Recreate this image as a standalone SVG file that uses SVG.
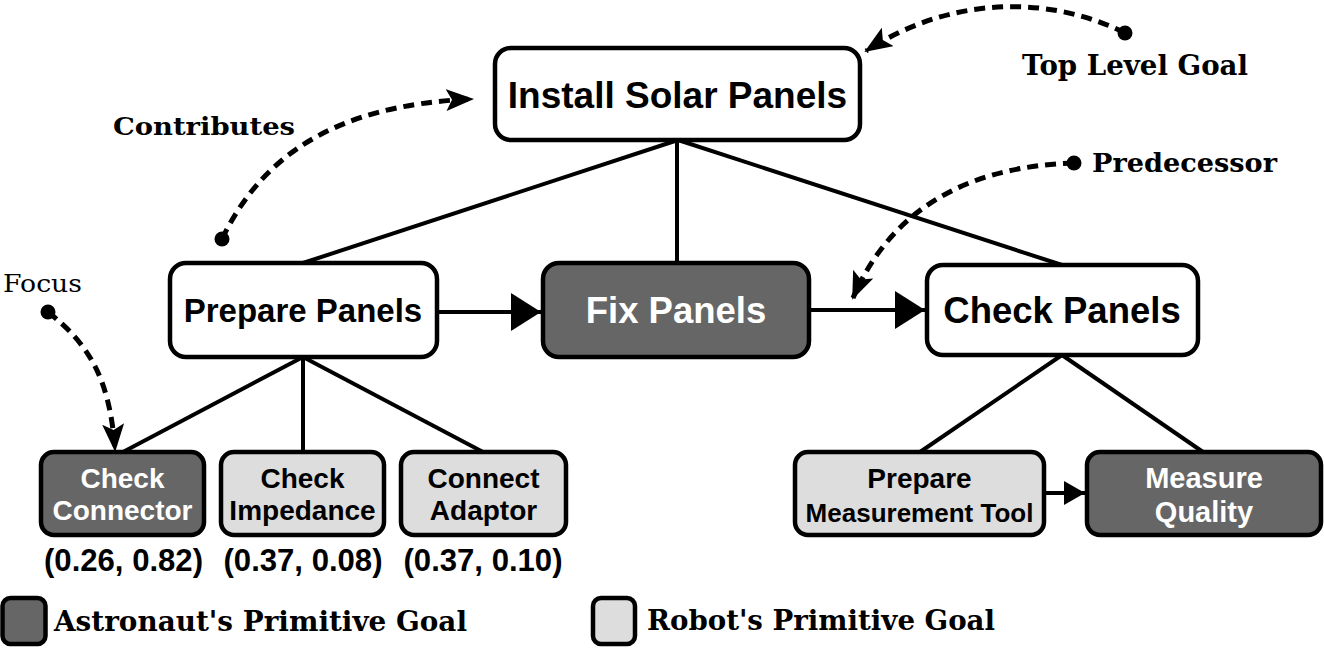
<svg xmlns="http://www.w3.org/2000/svg" width="1324" height="648" viewBox="0 0 1324 648">
<style>
.box{stroke:#000;stroke-width:4.5}
.w{fill:#fff}.d{fill:#666}.l{fill:#ddd}
.t{font-family:"Liberation Sans",Arial,sans-serif;font-weight:bold;text-anchor:middle;fill:#000}
.tw{fill:#fff}
.lab{font-family:"DejaVu Serif","Liberation Serif",serif;font-weight:bold;fill:#000}
.edge{stroke:#000;stroke-width:4;fill:none}
.dash{stroke:#000;stroke-width:5;fill:none;stroke-dasharray:11 7}
</style>
<defs>
<marker id="big" markerUnits="userSpaceOnUse" markerWidth="30" markerHeight="38" refX="30" refY="19" orient="auto"><path d="M0,0 L30,19 L0,38 z" fill="#000"/></marker>
<marker id="small" markerUnits="userSpaceOnUse" markerWidth="21" markerHeight="24" refX="21" refY="12" orient="auto"><path d="M0,0 L21,12 L0,24 z" fill="#000"/></marker>
<marker id="notch" markerUnits="userSpaceOnUse" markerWidth="28" markerHeight="22" refX="26" refY="11" orient="auto"><path d="M0,0 L28,11 L0,22 L6,11 z" fill="#000"/></marker>
</defs>
<g id="connectors">
<line class="edge" x1="678" y1="140" x2="303" y2="263"/>
<line class="edge" x1="677" y1="140" x2="677" y2="263"/>
<line class="edge" x1="678" y1="140" x2="1062" y2="265"/>
<line class="edge" x1="303" y1="357" x2="123" y2="452"/>
<line class="edge" x1="303" y1="357" x2="303" y2="452"/>
<line class="edge" x1="303" y1="357" x2="483" y2="452"/>
<line class="edge" x1="1062" y1="355" x2="920" y2="452"/>
<line class="edge" x1="1062" y1="355" x2="1203" y2="452"/>
<line class="edge" x1="437" y1="312" x2="541" y2="312" marker-end="url(#big)"/>
<line class="edge" x1="809" y1="310" x2="925" y2="310" marker-end="url(#big)"/>
<line class="edge" x1="1044" y1="493" x2="1085" y2="493" marker-end="url(#small)"/>
<path class="dash" d="M1125,33 C1060,0 960,-10 866,51" marker-end="url(#notch)"/>
<circle cx="1125" cy="33" r="7.5"/>
<path class="dash" d="M222,239 C260,160 330,105 472,99" marker-end="url(#notch)"/>
<circle cx="222" cy="239" r="7.5"/>
<path class="dash" d="M1074,163 C980,166 895,200 853,298" marker-end="url(#notch)"/>
<circle cx="1074" cy="163" r="7.5"/>
<path class="dash" d="M48,312 C90,345 110,380 115,450" marker-end="url(#notch)"/>
<circle cx="48" cy="312" r="7.5"/>
</g>
<g id="install"><rect class="box w" x="495" y="48" width="365" height="92" rx="16"/><text class="t" x="677.5" y="108" font-size="37">Install Solar Panels</text></g>
<g id="prepare"><rect class="box w" x="170" y="263" width="267" height="94" rx="16"/><text class="t" x="303" y="322" font-size="33">Prepare Panels</text></g>
<g id="fix"><rect class="box d" x="543" y="263" width="266" height="94" rx="16"/><text class="t tw" x="676" y="323" font-size="36.5">Fix Panels</text></g>
<g id="check"><rect class="box w" x="927" y="265" width="271" height="90" rx="16"/><text class="t" x="1062" y="323" font-size="36.5">Check Panels</text></g>
<g id="checkConnector"><rect class="box d" x="41" y="452" width="163" height="83" rx="13"/><text class="t tw" x="122.5" y="488" font-size="28">Check</text><text class="t tw" x="122.5" y="520" font-size="28">Connector</text></g>
<g id="checkImpedance"><rect class="box l" x="221" y="452" width="163" height="83" rx="13"/><text class="t" x="302.5" y="488" font-size="28">Check</text><text class="t" x="302.5" y="520" font-size="28">Impedance</text></g>
<g id="connectAdaptor"><rect class="box l" x="401" y="452" width="165" height="83" rx="13"/><text class="t" x="483.5" y="488" font-size="28">Connect</text><text class="t" x="483.5" y="520" font-size="28">Adaptor</text></g>
<g id="prepTool"><rect class="box l" x="795" y="452" width="249" height="83" rx="13"/><text class="t" x="919.5" y="488" font-size="28">Prepare</text><text class="t" x="919.5" y="522" font-size="26">Measurement Tool</text></g>
<g id="measure"><rect class="box d" x="1087" y="452" width="234" height="83" rx="13"/><text class="t tw" x="1204" y="488" font-size="29">Measure</text><text class="t tw" x="1204" y="522" font-size="29">Quality</text></g>
<g id="values">
<text class="t" x="123.5" y="571" font-size="32" textLength="159" lengthAdjust="spacingAndGlyphs">(0.26, 0.82)</text>
<text class="t" x="303" y="571" font-size="32" textLength="159" lengthAdjust="spacingAndGlyphs">(0.37, 0.08)</text>
<text class="t" x="483" y="571" font-size="32" textLength="159" lengthAdjust="spacingAndGlyphs">(0.37, 0.10)</text>
</g>
<g id="labels">
<text class="lab" x="1022" y="75" font-size="27" textLength="226" lengthAdjust="spacingAndGlyphs">Top Level Goal</text>
<text class="lab" x="113" y="135" font-size="25" textLength="182" lengthAdjust="spacingAndGlyphs">Contributes</text>
<text class="lab" x="1092" y="172" font-size="26" textLength="185" lengthAdjust="spacingAndGlyphs">Predecessor</text>
<text class="lab" x="3" y="292" font-size="25" style="font-weight:normal" textLength="79" lengthAdjust="spacingAndGlyphs">Focus</text>
</g>
<g id="legend">
<rect class="box d" x="2.5" y="598" width="43" height="46" rx="8"/>
<text class="lab" x="54" y="631" font-size="27" textLength="413" lengthAdjust="spacingAndGlyphs">Astronaut's Primitive Goal</text>
<rect class="box l" x="593" y="598" width="42" height="46" rx="8"/>
<text class="lab" x="647" y="630" font-size="27" textLength="348" lengthAdjust="spacingAndGlyphs">Robot's Primitive Goal</text>
</g>
</svg>
